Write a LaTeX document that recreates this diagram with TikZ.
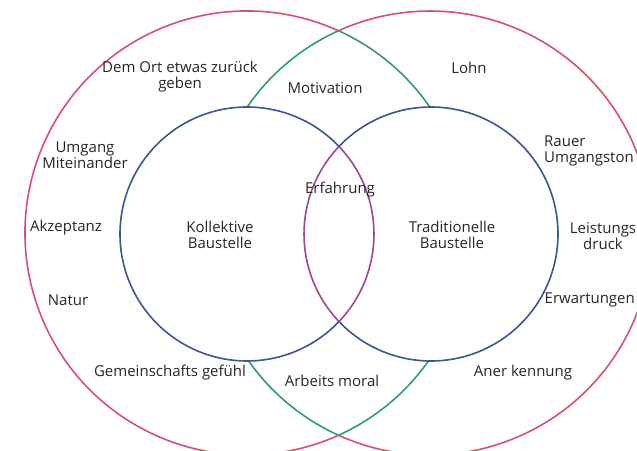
\documentclass[tikz,border=0pt]{standalone}
\usepackage{fontspec}
\setmainfont{Open Sans}
\usetikzlibrary{positioning}
\definecolor{outerRed}{HTML}{D8506A}
\definecolor{lensGreen}{HTML}{2E9A7E}
\definecolor{innerBlue}{HTML}{3E5690}
\definecolor{lensPurple}{HTML}{A0488A}
\definecolor{inkGray}{HTML}{262626}

\begin{document}
\begin{tikzpicture}[
        x=1pt, y=1pt,
        font=\fontsize{15}{16}\selectfont,
        ring/.style={
            line width=1.6pt
        },
        txt/.style={
            align=center,
            inner sep=0pt,
            text=inkGray
        }
    ]

    \useasboundingbox (0,0) rectangle (637,450);
    \clip (0,0) rectangle (637,450);

    \coordinate (cL) at (247,217);
    \coordinate (cR) at (430,217);
    \coordinate (bL) at (247,216);
    \coordinate (bR) at (431,216);

    % outer circles
    \draw[ring, outerRed] (cL) ++(65.66:222)
        arc[start angle=65.66, end angle=294.34, radius=222];
    \draw[ring, outerRed] (cR) ++(-114.34:222)
        arc[start angle=-114.34, end angle=114.34, radius=222];

    % lens of the outer circles
    \draw[ring, lensGreen] (cL) ++(-65.66:222)
        arc[start angle=-65.66, end angle=65.66, radius=222];
    \draw[ring, lensGreen] (cR) ++(114.34:222)
        arc[start angle=114.34, end angle=245.66, radius=222];

    % inner circles
    \fill[white] (bL) circle[radius=127] (bR) circle[radius=127];
    \draw[ring, innerBlue] (bL) ++(43.56:127)
        arc[start angle=43.56, end angle=316.44, radius=127];
    \draw[ring, innerBlue] (bR) ++(-136.44:127)
        arc[start angle=-136.44, end angle=136.44, radius=127];
    \draw[ring, lensPurple] (bL) ++(-43.56:127)
        arc[start angle=-43.56, end angle=43.56, radius=127];
    \draw[ring, lensPurple] (bR) ++(136.44:127)
        arc[start angle=136.44, end angle=223.56, radius=127];

    \node[txt] (dem) at (180,373) {Dem Ort etwas zurück\\geben};
    \node[txt] (motivation) at (325,362) {Motivation};
    \node[txt] (lohn) at (469,382) {Lohn};
    \node[txt] (umgang) at (85,295) {Umgang\\Miteinander};
    \node[txt, anchor=west, align=left] (rauer) at (544,299) {Rauer\\Umgangston};

    \node[txt] (erfahrung) at (340,260) {Erfahrung};
    \node[txt] (akzeptanz) at (66,222) {Akzeptanz};
    \node[txt] (kollektiv) at (220,215) {Kollektive\\Baustelle};
    \node[txt] (traditionell) at (452,215) {Traditionelle\\Baustelle};
    \node[txt] (leistung) at (603,214) {Leistungs\\druck};

    \node[txt] (natur) at (68,150) {Natur};
    \node[txt, anchor=east] (erwartung) at (635,150) {Erwartungen};

    \node[txt] (gemeinschaft) at (170,77) {Gemeinschafts gefühl};
    \node[txt] (arbeitsmoral) at (332,69) {Arbeits moral};
    \node[txt] (anerkennung) at (523,77) {Aner kennung};

\end{tikzpicture}
\end{document}
